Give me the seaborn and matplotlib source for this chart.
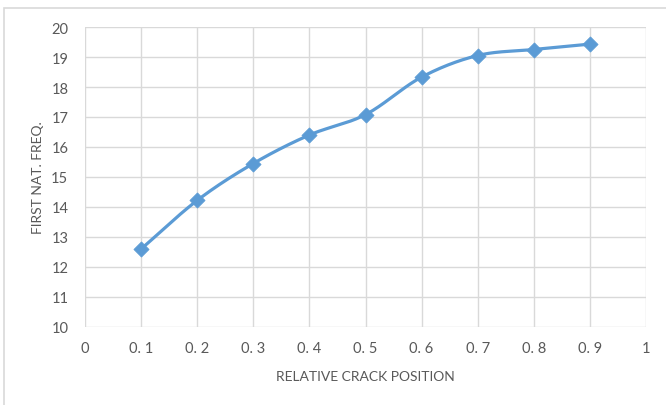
import numpy as np
import pandas as pd
import seaborn as sns
import matplotlib
matplotlib.use("Agg")
import matplotlib.pyplot as plt
from matplotlib.patches import Rectangle

# Relative crack position vs. first natural frequency
crack_position = [0.1, 0.2, 0.3, 0.4, 0.5, 0.6, 0.7, 0.8, 0.9]
first_nat_freq = [12.6, 14.22, 15.45, 16.4, 17.08, 18.33, 19.05, 19.25, 19.43]
x_ticks = [0, 0.1, 0.2, 0.3, 0.4, 0.5, 0.6, 0.7, 0.8, 0.9, 1]
x_tick_labels = ["0", "0. 1", "0. 2", "0. 3", "0. 4", "0. 5", "0. 6", "0. 7", "0. 8", "0. 9", "1"]
y_ticks = [10, 11, 12, 13, 14, 15, 16, 17, 18, 19, 20]

LINE = "#5B9BD5"
GRID = "#D9D9D9"
TEXT = "#595959"


def smooth_curve(xs, ys, steps=30):
    """Catmull-Rom style smoothing through every data point."""
    xs = np.asarray(xs, float)
    ys = np.asarray(ys, float)
    px = np.concatenate([[2 * xs[0] - xs[1]], xs, [2 * xs[-1] - xs[-2]]])
    py = np.concatenate([[2 * ys[0] - ys[1]], ys, [2 * ys[-1] - ys[-2]]])
    out_x, out_y = [], []
    t = np.linspace(0, 1, steps, endpoint=False)
    for i in range(1, len(px) - 2):
        p0, p1, p2, p3 = (np.array([px[j], py[j]]) for j in range(i - 1, i + 3))
        c1 = p1 + (p2 - p0) / 6
        c2 = p2 - (p3 - p1) / 6
        b = ((1 - t) ** 3)[:, None] * p1 + (3 * (1 - t) ** 2 * t)[:, None] * c1 \
            + (3 * (1 - t) * t ** 2)[:, None] * c2 + (t ** 3)[:, None] * p2
        out_x.extend(b[:, 0])
        out_y.extend(b[:, 1])
    out_x.append(xs[-1])
    out_y.append(ys[-1])
    return np.array(out_x), np.array(out_y)


sns.set_theme(style="white")
plt.rcParams["font.family"] = ["Lato", "DejaVu Sans"]

fig = plt.figure(figsize=(6.66, 4.06), dpi=100)
fig.patches.append(Rectangle((4 / 666, -0.01), 1.0, 1 - 9 / 406 + 0.01,
                             transform=fig.transFigure, fill=False,
                             edgecolor="#D9D9D9", linewidth=1.2))
ax = fig.add_axes([85 / 666, 1 - 328 / 406, (646 - 85) / 666, 300 / 406])

df = pd.DataFrame({"pos": crack_position, "freq": first_nat_freq})
sx, sy = smooth_curve(df["pos"], df["freq"])
curve = pd.DataFrame({"pos": sx, "freq": sy})

sns.lineplot(data=curve, x="pos", y="freq", ax=ax, color=LINE, linewidth=2.3,
             sort=False, zorder=3)
sns.scatterplot(data=df, x="pos", y="freq", ax=ax, marker="D", s=60,
                color=LINE, edgecolor=LINE, linewidth=0.5, zorder=4)

ax.set_xlim(0, 1)
ax.set_ylim(10, 20)
ax.set_xticks(x_ticks)
ax.set_xticklabels(x_tick_labels)
ax.set_yticks(y_ticks)
ax.grid(True, color=GRID, linewidth=1.0)
for s in ax.spines.values():
    s.set_visible(False)
ax.tick_params(axis="both", length=0, colors=TEXT, labelsize=10.5)
ax.tick_params(axis="x", pad=10)
ax.tick_params(axis="y", pad=12)
ax.set_xlabel("RELATIVE CRACK POSITION", color=TEXT, fontsize=10, labelpad=11)
ax.set_ylabel("FIRST NAT. FREQ.", color=TEXT, fontsize=10, labelpad=5)

fig.savefig("out.png", dpi=100)
